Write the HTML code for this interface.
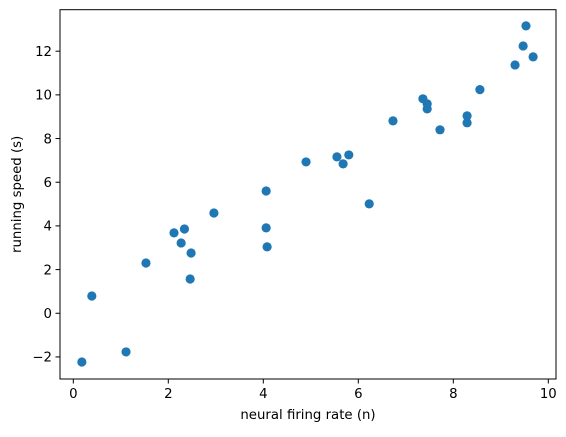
<!DOCTYPE html>
<html><head><meta charset="utf-8"><style>
body{margin:0;background:#fff;}
svg text{font-family:"DejaVu Sans","Liberation Sans",sans-serif;font-size:13.3px;fill:#000;}
</style></head><body>
<svg id="chart" width="566" height="432"></svg>
<script>
const xValues=[0.18,0.39,1.11,1.53,2.12,2.27,2.34,2.48,2.46,2.96,4.06,4.06,4.08,4.90,5.55,5.68,5.80,6.23,6.73,7.36,7.45,7.45,7.72,8.29,8.29,8.56,9.30,9.47,9.53,9.68];
const yValues=[-2.23,0.79,-1.77,2.30,3.68,3.22,3.86,2.76,1.57,4.59,5.60,3.91,3.04,6.93,7.16,6.84,7.25,5.01,8.81,9.82,9.59,9.36,8.40,9.04,8.72,10.24,11.37,12.24,13.16,11.74];
const xTicks=[0,2,4,6,8,10];
const yTicks=[-2,0,2,4,6,8,10,12];
const L=60,R=556,T=9.7,B=379;
const xMin=-0.28,xMax=10.162,yMin=-3.01,yMax=13.9;
const sx=v=>L+(v-xMin)/(xMax-xMin)*(R-L);
const sy=v=>B-(v-yMin)/(yMax-yMin)*(B-T);
const svg=document.getElementById('chart');
const NS='http://www.w3.org/2000/svg';
function mk(tag,attrs){const e=document.createElementNS(NS,tag);for(const k in attrs)e.setAttribute(k,attrs[k]);svg.appendChild(e);return e;}
xValues.forEach((x,i)=>{
 const c=mk('circle',{cx:sx(x),cy:sy(yValues[i]),r:4.6,fill:'#1f77b4'});
 
 
});
const frame=mk('rect',{x:L,y:T,width:R-L,height:B-T,fill:'none',stroke:'#000','stroke-width':1});


xTicks.forEach(t=>{
 const x=sx(t);
 const l=mk('line',{x1:x,x2:x,y1:B,y2:B+4.5,stroke:'#000'});
 
 
 const tx=mk('text',{x:x,y:B+19,'text-anchor':'middle'});tx.textContent=t;
 
 
});
yTicks.forEach(t=>{
 const y=sy(t);
 const l=mk('line',{x1:L-4.5,x2:L,y1:y,y2:y,stroke:'#000'});
 
 
 const tx=mk('text',{x:L-8,y:y+4.8,'text-anchor':'end'});tx.textContent=(t<0?'\u2212'+(-t):t);
 
 
});
const xt=mk('text',{x:(L+R)/2,y:419,'text-anchor':'middle'});xt.textContent='neural firing rate (n)';


const yt=mk('text',{x:0,y:0,'text-anchor':'middle',transform:`translate(21,${(T+B)/2}) rotate(-90)`});yt.textContent='running speed (s)';


</script>
</body></html>
